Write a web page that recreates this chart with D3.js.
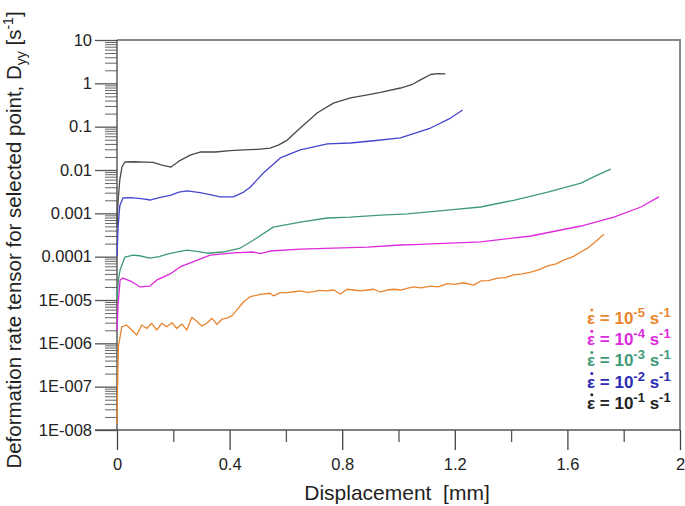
<!DOCTYPE html>
<html>
<head>
<meta charset="utf-8">
<script src="https://cdn.jsdelivr.net/npm/d3@7"></script>
<style>
  body { margin: 0; background: #fff; }
  text { font-family: Arial, "Liberation Sans", sans-serif; }
</style>
</head>
<body>
<div id="chart"></div>
<script>
// data: [displacement mm, D_yy s^-1]
let rate1e1 = [[0,0.0005],[0.004,0.002],[0.01,0.006],[0.018,0.012],[0.028,0.0153],[0.06,0.0155],[0.1,0.0152],[0.128,0.015],[0.16,0.013],[0.192,0.0117],[0.22,0.016],[0.26,0.022],[0.295,0.026],[0.35,0.026],[0.402,0.028],[0.45,0.029],[0.5,0.03],[0.544,0.032],[0.575,0.038],[0.605,0.049],[0.651,0.093],[0.712,0.21],[0.769,0.35],[0.829,0.46],[0.88,0.53],[0.936,0.62],[1.007,0.78],[1.05,0.95],[1.078,1.2],[1.114,1.6],[1.14,1.68],[1.167,1.66]];
let rate1e2 = [[0,0.0001],[0.004,0.0005],[0.01,0.0015],[0.021,0.00226],[0.05,0.0023],[0.093,0.00215],[0.117,0.00203],[0.15,0.0023],[0.189,0.0026],[0.22,0.0031],[0.249,0.0033],[0.295,0.003],[0.33,0.0027],[0.367,0.0024],[0.413,0.0024],[0.45,0.0031],[0.473,0.004],[0.52,0.0085],[0.58,0.019],[0.651,0.029],[0.747,0.04],[0.829,0.042],[0.92,0.048],[1.007,0.055],[1.114,0.093],[1.185,0.158],[1.228,0.243]];
let rate1e3 = [[0,0.00001],[0.005,0.00003],[0.011,0.000049],[0.028,0.000098],[0.057,0.000109],[0.08,0.000105],[0.117,0.000093],[0.15,0.0001],[0.178,0.000115],[0.22,0.00013],[0.249,0.000142],[0.29,0.00013],[0.32,0.00012],[0.377,0.000128],[0.438,0.000158],[0.484,0.00024],[0.555,0.00048],[0.651,0.00063],[0.747,0.00078],[0.829,0.00082],[0.936,0.00091],[1.032,0.00097],[1.174,0.00119],[1.292,0.0014],[1.409,0.002],[1.53,0.0031],[1.648,0.005],[1.708,0.0077],[1.754,0.0105]];
let rate1e4 = [[0,0.000002],[0.004,0.000008],[0.011,0.000029],[0.021,0.000032],[0.05,0.000027],[0.082,0.00002],[0.117,0.000021],[0.142,0.000029],[0.189,0.00004],[0.224,0.000058],[0.285,0.000083],[0.331,0.000109],[0.413,0.000122],[0.484,0.000128],[0.509,0.000117],[0.544,0.000135],[0.651,0.00015],[0.769,0.000158],[0.89,0.000166],[1.007,0.000186],[1.053,0.00019],[1.292,0.00022],[1.47,0.0003],[1.648,0.00051],[1.765,0.00082],[1.861,0.0014],[1.925,0.0024]];
let rate1e5 = [[0,1.4e-8],[0.002,1e-7],[0.005,8.4e-7],[0.017,2.4e-6],[0.034,2.65e-6],[0.052,2.03e-6],[0.07,1.56e-6],[0.088,2.65e-6],[0.106,2.2e-6],[0.123,2.9e-6],[0.141,2.03e-6],[0.159,2.9e-6],[0.177,2.4e-6],[0.195,3.0e-6],[0.212,2.2e-6],[0.23,2.8e-6],[0.248,2.03e-6],[0.266,4.0e-6],[0.284,3.2e-6],[0.301,2.5e-6],[0.319,2.9e-6],[0.337,3.8e-6],[0.355,2.75e-6],[0.373,3.6e-6],[0.39,3.8e-6],[0.408,4.3e-6],[0.426,5.9e-6],[0.45,9.1e-6],[0.473,1.19e-5],[0.509,1.35e-5],[0.544,1.43e-5],[0.556,1.24e-5],[0.58,1.48e-5],[0.604,1.48e-5],[0.63,1.55e-5],[0.651,1.62e-5],[0.675,1.5e-5],[0.699,1.56e-5],[0.72,1.66e-5],[0.746,1.62e-5],[0.77,1.7e-5],[0.794,1.38e-5],[0.817,1.77e-5],[0.841,1.7e-5],[0.865,1.62e-5],[0.889,1.7e-5],[0.912,1.77e-5],[0.936,1.53e-5],[0.96,1.7e-5],[0.983,1.77e-5],[1.007,1.7e-5],[1.03,1.85e-5],[1.053,2.0e-5],[1.08,1.9e-5],[1.114,2.1e-5],[1.14,2.0e-5],[1.174,2.4e-5],[1.2,2.3e-5],[1.231,2.5e-5],[1.267,2.2e-5],[1.292,2.75e-5],[1.32,2.8e-5],[1.352,3.2e-5],[1.38,3.3e-5],[1.409,3.8e-5],[1.44,4.0e-5],[1.47,4.4e-5],[1.5,5.0e-5],[1.53,6.1e-5],[1.56,6.8e-5],[1.587,8.3e-5],[1.62,1.0e-4],[1.648,1.28e-4],[1.67,1.55e-4],[1.694,2.07e-4],[1.73,3.3e-4]];

let seriesNames = ["1e-5", "1e-4", "1e-3", "1e-2", "1e-1"];
let seriesData = [rate1e5, rate1e4, rate1e3, rate1e2, rate1e1];
let lineColors = ["#e8852f", "#dc2adc", "#3f9a78", "#4545d0", "#4a4a4a"];
let legendColors = ["#e8852f", "#dc2adc", "#3f9a78", "#2a2ab4", "#222222"];
let legendExponents = ["-5", "-4", "-3", "-2", "-1"];

let yTicks = [10, 1, 0.1, 0.01, 0.001, 0.0001, 1e-5, 1e-6, 1e-7, 1e-8];
let yTickLabels = ["10", "1", "0.1", "0.01", "0.001", "0.0001", "1E-005", "1E-006", "1E-007", "1E-008"];
let xTicks = [0, 0.4, 0.8, 1.2, 1.6, 2];
let xMinorTicks = [0.2, 0.6, 1.0, 1.4, 1.8];

// svg dimensions
let svgWidth = 685;
let svgHeight = 506;
let margin = { top: 40, right: 5, bottom: 76, left: 117 };
let width = svgWidth - margin.left - margin.right;
let height = svgHeight - margin.top - margin.bottom;

let svg = d3.select("#chart")
    .append("svg")
    .attr("width", svgWidth)
    .attr("height", svgHeight);

let g = svg.append("g")
    .attr("transform", `translate(${margin.left}, ${margin.top})`);

// scales
let x = d3.scaleLinear().domain([0, 2]).range([0, width]);
let y = d3.scaleLog().domain([1e-8, 10]).range([height, 0]);

// minor log ticks 2..9 in each decade
let yMinor = [];
for (let e = -8; e < 1; e++) {
    for (let m = 2; m < 10; m++) yMinor.push(m * Math.pow(10, e));
}

// frame (top and right)
g.append("path")
    .attr("d", `M0,0 H${width} V${height}`)
    .attr("fill", "none")
    .attr("stroke", "#8a8a8a")
    .attr("stroke-width", 2);

// y axis minor ticks
g.append("g")
    .call(d3.axisLeft(y).tickValues(yMinor).tickSize(12).tickFormat(""))
    .call(a => a.select(".domain").remove())
    .selectAll("line").attr("stroke", "#666");

// y axis major ticks
let yAxis = g.append("g")
    .call(d3.axisLeft(y).tickValues(yTicks).tickSize(22).tickPadding(3)
        .tickFormat((d, i) => yTickLabels[i]));
yAxis.select(".domain").remove();
yAxis.selectAll("line").attr("stroke", "#555").attr("stroke-width", 1.3);
yAxis.selectAll("text").attr("font-size", 16.5).attr("fill", "#222");

// y axis line
g.append("line")
    .attr("x1", 0).attr("x2", 0)
    .attr("y1", 0).attr("y2", height)
    .attr("stroke", "#444").attr("stroke-width", 1.3);

// x axis minor ticks
g.append("g")
    .attr("transform", `translate(0, ${height})`)
    .call(d3.axisBottom(x).tickValues(xMinorTicks).tickSize(12).tickFormat(""))
    .call(a => a.select(".domain").remove())
    .selectAll("line").attr("stroke", "#555").attr("stroke-width", 1.3);

// x axis major ticks
let xAxis = g.append("g")
    .attr("transform", `translate(0, ${height})`)
    .call(d3.axisBottom(x).tickValues(xTicks).tickSize(20).tickPadding(8)
        .tickFormat(d => d3.format("")(d)));
xAxis.select(".domain").remove();
xAxis.selectAll("line").attr("stroke", "#444").attr("stroke-width", 1.3);
xAxis.selectAll("text").attr("font-size", 16.5).attr("fill", "#222");

// x axis line, sticking out to the left
g.append("line")
    .attr("x1", -22).attr("x2", width)
    .attr("y1", height).attr("y2", height)
    .attr("stroke", "#555").attr("stroke-width", 1.5);

// curves
let line = d3.line()
    .x(d => x(d[0]))
    .y(d => y(d[1]));

g.selectAll(".curve")
    .data(seriesData)
    .join("path")
    .attr("class", "curve")
    .attr("d", line)
    .attr("fill", "none")
    .attr("stroke", (d, i) => lineColors[i])
    .attr("stroke-width", 1.3)
    .attr("stroke-linejoin", "round");

// legend
let legend = svg.append("g")
    .attr("font-size", 17)
    .attr("font-weight", "bold");

seriesNames.forEach((name, i) => {
    let ly = 324 + i * 21.2;
    let t = legend.append("text")
        .attr("x", 587)
        .attr("y", ly)
        .attr("fill", legendColors[i]);
    t.append("tspan").text("\u03B5 = 10");
    t.append("tspan").attr("dy", -7).attr("font-size", 13).text(legendExponents[i]);
    t.append("tspan").attr("dy", 7).text(" s");
    t.append("tspan").attr("dy", -7).attr("font-size", 13).text("-1");
    // dot over epsilon (time derivative)
    legend.append("circle")
        .attr("cx", 591.8)
        .attr("cy", ly - 14)
        .attr("r", 1.5)
        .attr("fill", legendColors[i]);
});

// axis titles
svg.append("text")
    .attr("x", 397)
    .attr("y", 500)
    .attr("text-anchor", "middle")
    .attr("font-size", 21)
    .attr("fill", "#222")
    .attr("xml:space", "preserve")
    .text("Displacement  [mm]");

let yTitle = svg.append("text")
    .attr("transform", "translate(21, 240) rotate(-90)")
    .attr("text-anchor", "middle")
    .attr("font-size", 20.5)
    .attr("fill", "#222");
yTitle.append("tspan").text("Deformation rate tensor for selected point, D");
yTitle.append("tspan").attr("dy", 5).attr("font-size", 14).text("yy");
yTitle.append("tspan").attr("dy", -5).text(" [s");
yTitle.append("tspan").attr("dy", -8).attr("font-size", 14).text("-1");
yTitle.append("tspan").attr("dy", 8).text("]");
</script>
</body>
</html>
